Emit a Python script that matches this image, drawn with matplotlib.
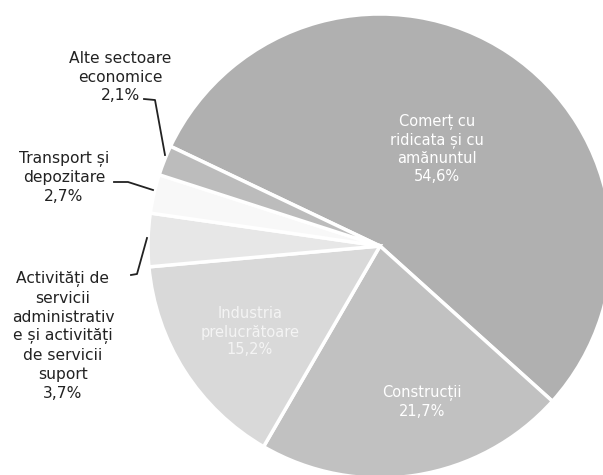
import numpy as np
import matplotlib.pyplot as plt

# sectors, clockwise from the upper-left edge of the big slice
sectors = ["Comerț cu\nridicata și cu\namănuntul",
           "Construcții",
           "Industria\nprelucrătoare",
           "Activități de\nservicii\nadministrativ\ne și activități\nde servicii\nsuport",
           "Transport și\ndepozitare",
           "Alte sectoare\neconomice"]
shares = [54.6, 21.7, 15.2, 3.7, 2.7, 2.1]
colors = ["#b0b0b0", "#c1c1c1", "#d9d9d9", "#e7e7e7", "#f8f8f8", "#bcbcbc"]

W, H = 603, 475
fig = plt.figure(figsize=(W / 100, H / 100), dpi=100)
ax = fig.add_axes([0, 0, 1, 1])

cx, cy, r = 380, H - 246, 232
start = -42 + shares[0] * 3.6
wedges, _ = ax.pie(shares, colors=colors, startangle=start, counterclock=False,
                   center=(cx, cy), radius=r,
                   wedgeprops=dict(edgecolor="white", linewidth=2.5))

ax.set_xlim(0, W)
ax.set_ylim(0, H)
ax.set_aspect("equal")
ax.axis("off")


def pct(v):
    return f"{v:.1f}%".replace(".", ",")


def txt(x, y, s, color="#222222", size=11.2, ls=1.33):
    # x, y in picture pixels (y downwards)
    ax.text(x, H - y, s, ha="center", va="center", color=color,
            fontsize=size, family="DejaVu Sans", linespacing=ls)


# labels inside the pie
txt(437, 149, sectors[0] + "\n" + pct(shares[0]), color="white", size=10.5, ls=1.25)
txt(422, 402, sectors[1] + "\n" + pct(shares[1]), color="white", size=10.5, ls=1.25)
txt(250, 332, sectors[2] + "\n" + pct(shares[2]), color="#f4f4f4", size=10.5, ls=1.25)

# labels outside with leader lines
txt(120, 77, sectors[5] + "\n" + pct(shares[5]))
txt(64, 177, sectors[4] + "\n" + pct(shares[4]))
txt(63, 336, sectors[3] + "\n" + pct(shares[3]))

lc = "#222222"
ax.plot([144, 155, 165], [H - 99, H - 100, H - 155], color=lc, lw=1.3)
ax.plot([114, 128, 153], [H - 182, H - 182, H - 190], color=lc, lw=1.3)
ax.plot([131, 137, 147], [H - 275, H - 274, H - 238], color=lc, lw=1.3)

fig.savefig("out.png", dpi=100)
